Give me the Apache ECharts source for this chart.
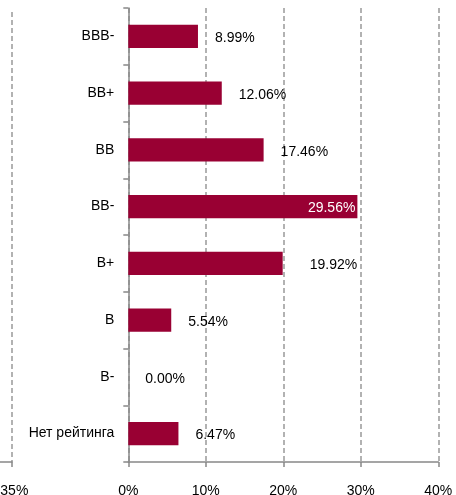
<!DOCTYPE html>
<html>
<head>
<meta charset="utf-8">
<script src="https://cdn.jsdelivr.net/npm/echarts@6/dist/echarts.min.js"></script>
<style>
  html,body{margin:0;padding:0;background:#fff;}
  #chart{width:456px;height:495px;}
</style>
</head>
<body>
<div id="chart"></div>
<script>
// рейтинговые группы, сверху вниз
let categories=['BBB-','BB+','BB','BB-','B+','B','B-','Нет рейтинга']
let shares=[8.99,12.06,17.46,29.56,19.92,5.54,0.00,6.47]
// шкала основной диаграммы, %
let xMin=0,xMax=40,xStep=10
// обрывок соседней диаграммы слева
let sideMin=-40,sideMax=-35,sideStep=5

let barColor='#990033'
let axisColor='#888'
let font='"Liberation Sans", Arial, sans-serif'

let data=shares.map((v,i)=>{
  let item={value:v}
  if(v===29.56){
    item.label={position:'insideRight',color:'#fff',distance:2}
  }
  if(v===19.92){
    item.label={distance:27}
  }
  return item
})

let myChart=echarts.init(document.getElementById('chart'))
let options={
  animation:false,
  grid:[
    {left:128.3,right:17.7,top:8,bottom:33,outerBoundsMode:'none',containLabel:false},
    {left:-20,width:32,top:12,bottom:33,outerBoundsMode:'none',containLabel:false}
  ],
  xAxis:[
    {
      type:'value',
      gridIndex:0,
      min:xMin,
      max:xMax,
      interval:xStep,
      axisLine:{show:true,lineStyle:{color:axisColor,width:1.5}},
      axisTick:{show:true,length:5,lineStyle:{color:axisColor,width:1.5}},
      axisLabel:{margin:22,color:'#000',fontSize:14,fontFamily:font,formatter:'{value}%'},
      splitLine:{show:true,lineStyle:{color:'#999',type:[5,3],width:1.5}}
    },
    {
      type:'value',
      gridIndex:1,
      min:sideMin,
      max:sideMax,
      interval:sideStep,
      axisLine:{show:true,onZero:false,lineStyle:{color:axisColor,width:1.5}},
      axisTick:{show:true,length:5,lineStyle:{color:axisColor,width:1.5}},
      axisLabel:{margin:22,color:'#000',fontSize:14,fontFamily:font,formatter:'{value}%',showMinLabel:false},
      splitLine:{show:true,lineStyle:{color:'#999',type:[5,3],width:1.5}}
    }
  ],
  yAxis:[
    {
      type:'category',
      gridIndex:0,
      data:categories,
      inverse:true,
      axisLine:{show:true,onZero:false,lineStyle:{color:axisColor,width:1.5}},
      axisTick:{show:true,length:5,lineStyle:{color:axisColor,width:1.5}},
      axisLabel:{color:'#000',fontSize:14,fontFamily:font,margin:14,padding:[4,0,0,0]}
    },
    {
      type:'value',
      gridIndex:1,
      min:0,
      max:1,
      show:false
    }
  ],
  series:[{
    type:'bar',
    xAxisIndex:0,
    yAxisIndex:0,
    data:data,
    barWidth:'41%',
    itemStyle:{color:barColor},
    label:{
      show:true,
      position:'right',
      distance:17,
      color:'#000',
      fontSize:14,
      fontFamily:font,
      offset:[0,2],
      formatter:function(p){
        return p.value.toFixed(2)+'%'
      }
    }
  }]
}
myChart.setOption(options)
</script>
</body>
</html>
